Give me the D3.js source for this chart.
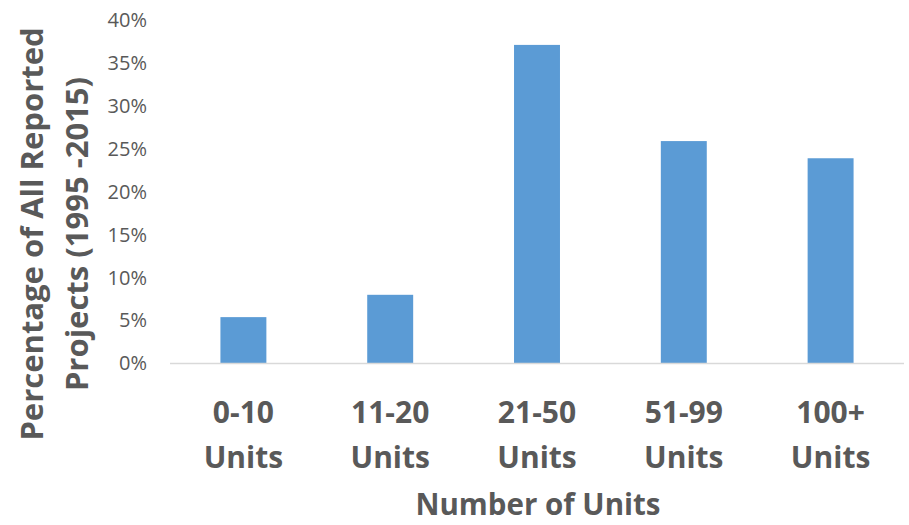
<!DOCTYPE html>
<html>
<head>
<meta charset="utf-8">
<script src="https://cdnjs.cloudflare.com/ajax/libs/d3/7.8.5/d3.min.js"></script>
<style>
  html, body { margin: 0; padding: 0; background: #fff; }
  svg { display: block; font-family: "Open Sans", "Noto Sans", sans-serif; }
</style>
</head>
<body>
<svg id="chart" width="909" height="525"></svg>
<script>
// Share of reported projects by project size
const categories = ["0-10 Units", "11-20 Units", "21-50 Units", "51-99 Units", "100+ Units"];
const shares = [5.4, 8.0, 37.1, 25.9, 23.9];
const yTicks = [0, 5, 10, 15, 20, 25, 30, 35, 40];

const svg = d3.select("#chart");
const textColor = "#595959";

const x = d3.scaleBand()
  .domain(categories)
  .range([170, 904])
  .paddingInner(0.687)
  .paddingOuter(0.3435);

const y = d3.scaleLinear()
  .domain([0, 40])
  .range([363.5, 20]);

// value axis (labels only)
const yAxis = svg.append("g")
  .attr("transform", "translate(147,0)")
  .call(d3.axisLeft(y).tickValues(yTicks).tickSize(0).tickPadding(0).tickFormat(d => d + "%"));
yAxis.select(".domain").remove();
yAxis.selectAll("text")
  .attr("fill", textColor)
  .attr("font-size", 20)
  .attr("font-family", "'Open Sans', sans-serif");

// bars
svg.append("g").selectAll("rect")
  .data(categories.map((c, i) => ({ c, v: shares[i] })))
  .join("rect")
  .attr("x", d => x(d.c))
  .attr("width", x.bandwidth())
  .attr("y", d => y(d.v))
  .attr("height", d => y(0) - y(d.v))
  .attr("fill", "#5B9BD5");

// category axis
const xAxis = svg.append("g")
  .attr("transform", `translate(0,${y(0)})`)
  .call(d3.axisBottom(x).tickSize(0).tickFormat(""));
xAxis.select(".domain")
  .attr("stroke", "#D9D9D9")
  .attr("stroke-width", 1.5)
  .attr("d", "M170,0H904");

// two-line category labels
const labels = svg.append("g");
categories.forEach(c => {
  const parts = c.split(" ");
  const cx = x(c) + x.bandwidth() / 2;
  const t = labels.append("text")
    .attr("text-anchor", "middle")
    .attr("fill", textColor)
    .attr("font-size", 30)
    .attr("font-weight", "bold");
  t.append("tspan").attr("x", cx).attr("y", 423).text(parts[0]);
  t.append("tspan").attr("x", cx).attr("y", 468).text(parts[1]);
});

// axis titles
svg.append("text")
  .attr("x", 538)
  .attr("y", 515)
  .attr("text-anchor", "middle")
  .attr("fill", textColor)
  .attr("font-size", 29.5)
  .attr("font-weight", "bold")
  .text("Number of Units");

const yTitle = svg.append("text")
  .attr("transform", "translate(0,234) rotate(-90)")
  .attr("text-anchor", "middle")
  .attr("fill", textColor)
  .attr("font-size", 31)
  .attr("font-weight", "bold");
yTitle.append("tspan").attr("x", 0).attr("y", 43).text("Percentage of All Reported");
yTitle.append("tspan").attr("x", 0).attr("y", 88).text("Projects (1995 -2015)");
</script>
</body>
</html>
